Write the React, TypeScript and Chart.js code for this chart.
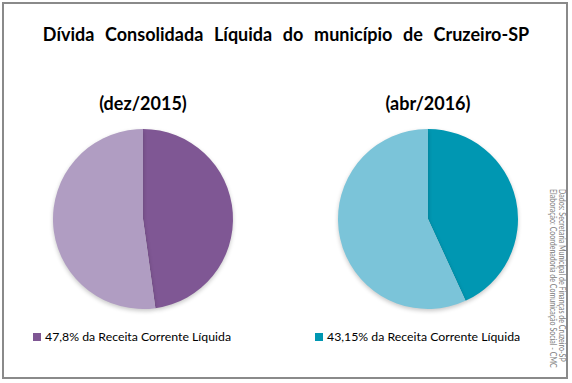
import React, { useEffect, useRef } from "react";
import { Chart, registerables } from "chart.js";
Chart.register(...registerables);

const labels2015 = ["47,8% da Receita Corrente Líquida", "Demais receitas"];
const values2015 = [47.8, 52.2];
const colors2015 = ["#7F5794", "#B09DC2"];

const labels2016 = ["43,15% da Receita Corrente Líquida", "Demais receitas"];
const values2016 = [43.15, 56.85];
const colors2016 = ["#0097B2", "#7BC4D9"];

const mainTitle = "Dívida Consolidada Líquida do município de Cruzeiro-SP";
const periodLeft = "(dez/2015)";
const periodRight = "(abr/2016)";
const sourceLines = [
  "Dados: Secretaria Municipal de Finanças de Cruzeiro-SP",
  "Elaboração: Coordenadoria de Comunicação Social - CMC",
];

const FONT = "Lato, 'Open Sans', 'DejaVu Sans', sans-serif";

const shadowPlugin = {
  id: "pieShadow",
  beforeDatasetsDraw(chart: any) {
    const ctx = chart.ctx;
    ctx.save();
    ctx.shadowColor = "rgba(0,0,0,0.22)";
    ctx.shadowBlur = 4;
    ctx.shadowOffsetY = 2;
  },
  afterDatasetsDraw(chart: any) {
    chart.ctx.restore();
  },
};

function Pie({ labels, values, colors, left, top }: any) {
  const ref = useRef<HTMLCanvasElement>(null);
  useEffect(() => {
    const chart = new Chart(ref.current!, {
      type: "pie",
      data: {
        labels,
        datasets: [
          {
            data: values,
            backgroundColor: colors,
            borderWidth: 0,
            hoverOffset: 0,
          },
        ],
      },
      options: {
        animation: false,
        responsive: false,
        maintainAspectRatio: false,
        layout: { padding: 7 },
        plugins: {
          legend: { display: false },
          title: { display: false },
          tooltip: { enabled: false },
        },
      },
      plugins: [shadowPlugin],
    });
    return () => chart.destroy();
  }, []);
  return (
    <canvas
      ref={ref}
      width={194}
      height={194}
      style={{ position: "absolute", left, top, width: 194, height: 194 }}
    />
  );
}

function LegendItem({ color, text, left, top }: any) {
  return (
    <div
      style={{
        position: "absolute",
        left,
        top,
        display: "flex",
        alignItems: "center",
        fontFamily: FONT,
        fontSize: 12.3,
        color: "#000",
        whiteSpace: "nowrap",
      }}
    >
      <span
        style={{
          display: "inline-block",
          width: 8,
          height: 8,
          background: color,
          marginRight: 4,
        }}
      />
      {text}
    </div>
  );
}

export default function App() {
  return (
    <div
      style={{
        position: "absolute",
        left: 0,
        top: 0,
        width: 572,
        height: 383,
        background: "#fff",
        overflow: "hidden",
      }}
    >
      <div
        style={{
          position: "absolute",
          left: 2,
          top: 2,
          width: 566,
          height: 377,
          border: "2px solid #8a8a8a",
          boxSizing: "border-box",
        }}
      />
      <div
        style={{
          position: "absolute",
          left: 0,
          top: 23,
          width: 572,
          textAlign: "center",
          fontFamily: FONT,
          fontWeight: "bold",
          fontSize: 18,
          wordSpacing: 6.3,
          color: "#000",
          whiteSpace: "nowrap",
        }}
      >
        {mainTitle}
      </div>
      <div
        style={{
          position: "absolute",
          left: 43,
          width: 200,
          top: 92,
          textAlign: "center",
          fontFamily: FONT,
          fontWeight: "bold",
          fontSize: 18,
        }}
      >
        {periodLeft}
      </div>
      <div
        style={{
          position: "absolute",
          left: 328,
          width: 200,
          top: 92,
          textAlign: "center",
          fontFamily: FONT,
          fontWeight: "bold",
          fontSize: 18,
        }}
      >
        {periodRight}
      </div>
      <Pie labels={labels2015} values={values2015} colors={colors2015} left={46} top={122} />
      <Pie labels={labels2016} values={values2016} colors={colors2016} left={331} top={122} />
      <LegendItem color={colors2015[0]} text={labels2015[0]} left={33} top={329} />
      <LegendItem color={colors2016[0]} text={labels2016[0]} left={315} top={329} />
      <div
        style={{
          position: "absolute",
          left: 547,
          top: 189,
          writingMode: "vertical-rl",
          fontFamily: FONT,
          fontSize: 8.5,
          lineHeight: "9.5px",
          color: "#808080",
          whiteSpace: "nowrap",
          transform: "scaleY(0.83)",
          transformOrigin: "top left",
        }}
      >
        {sourceLines.map((l, i) => (
          <div key={i}>{l}</div>
        ))}
      </div>
    </div>
  );
}
